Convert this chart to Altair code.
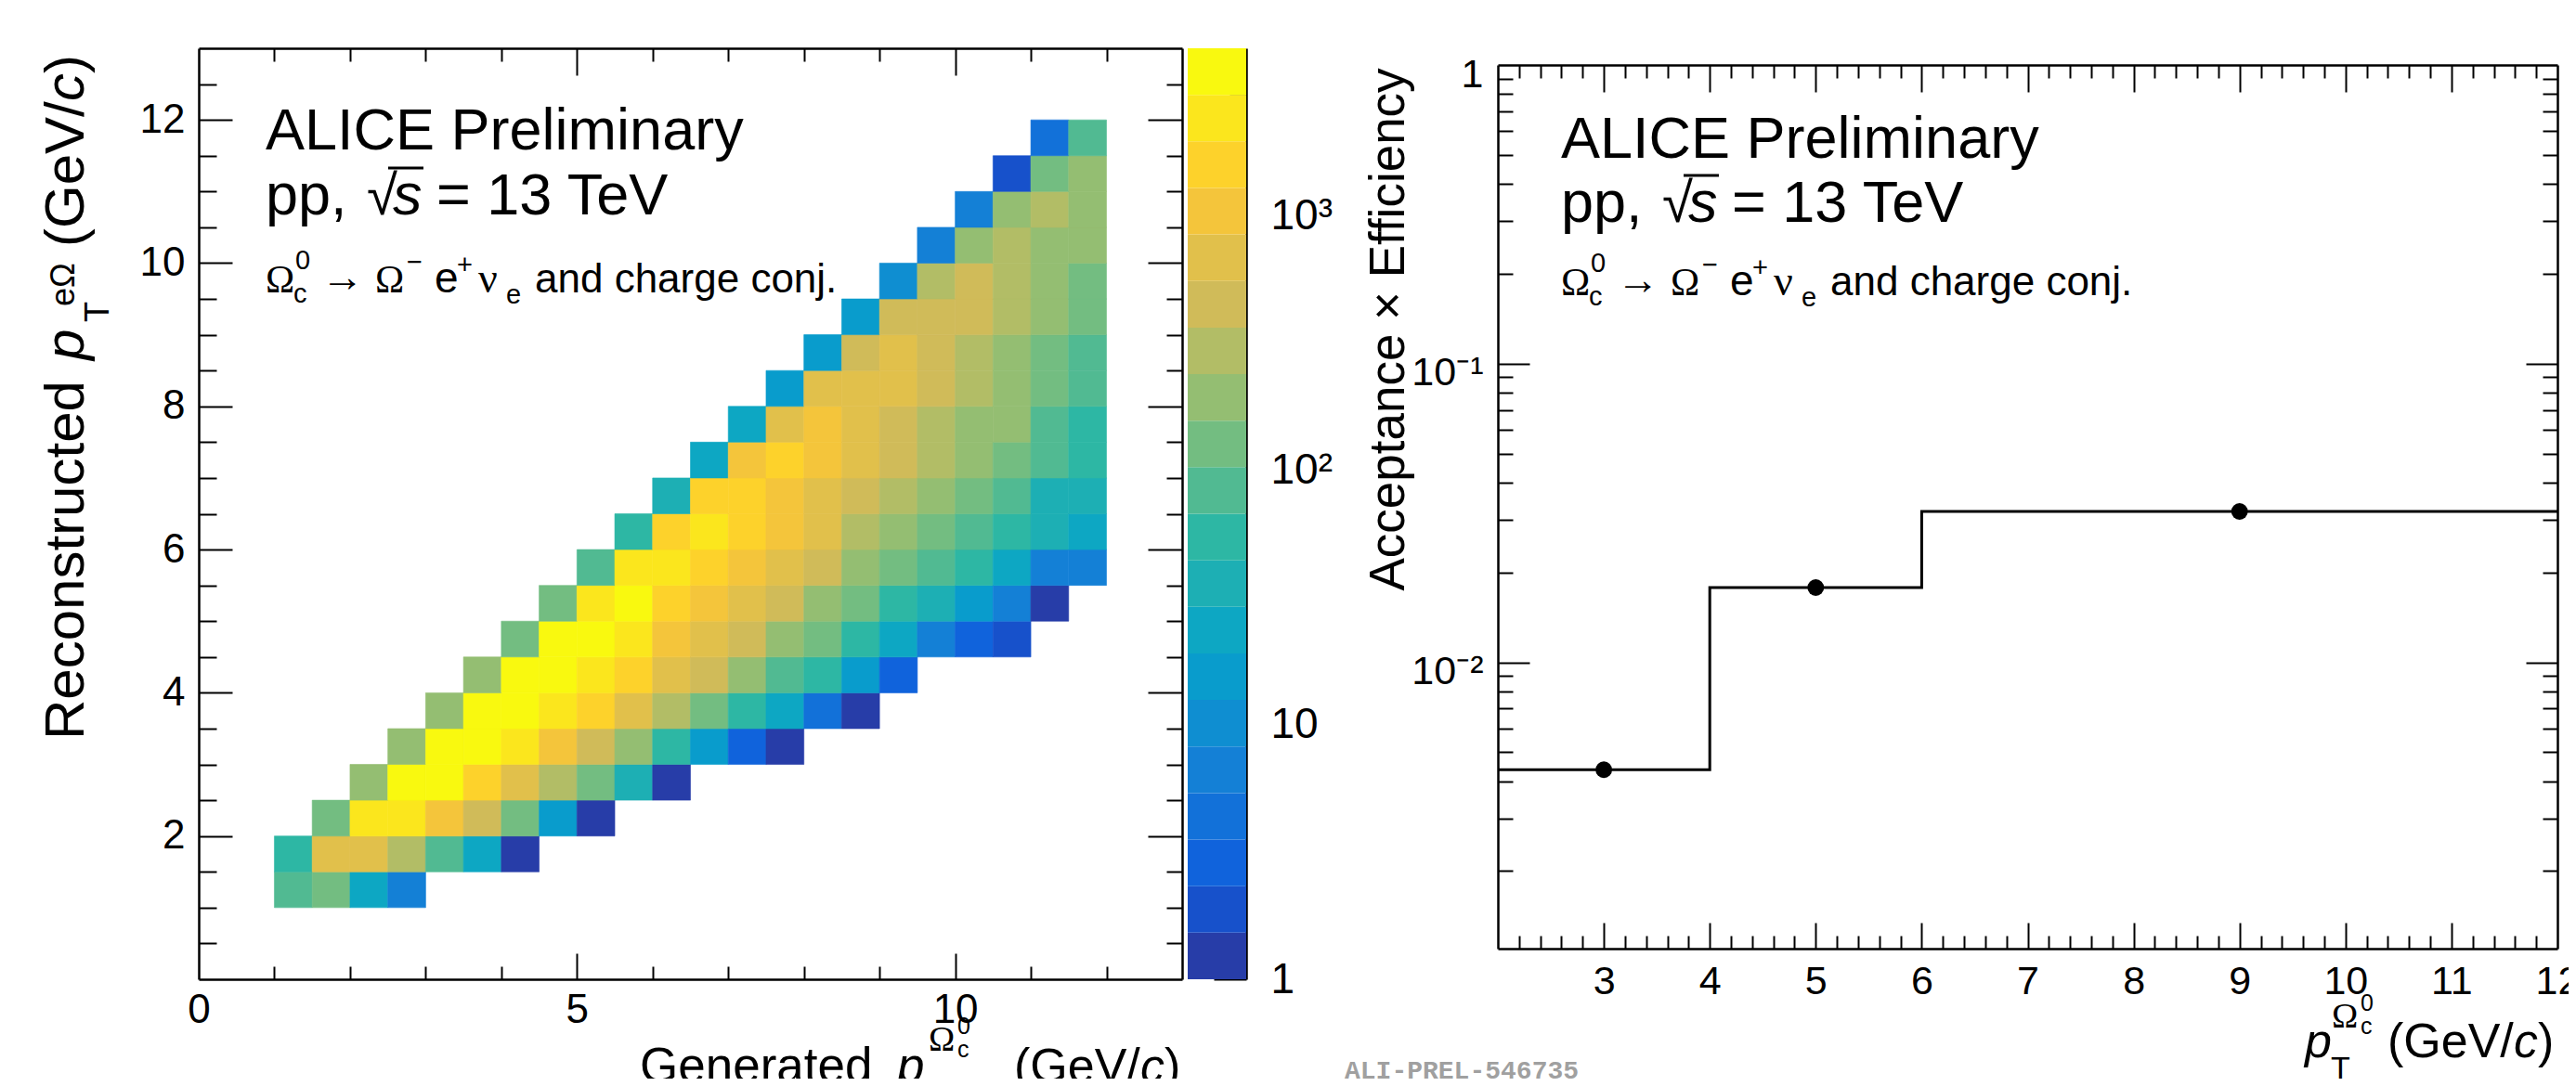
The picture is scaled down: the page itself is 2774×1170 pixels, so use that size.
import math
import altair as alt
import pandas as pd

# ---------------- data ----------------
# 2D response matrix: generated pT (x) vs reconstructed pT (y), 0.5 GeV/c bins
GEN_LO = [1.0, 1.5, 2.0, 2.5, 3.0, 3.5, 4.0, 4.5, 5.0, 5.5, 6.0,
          6.5, 7.0, 7.5, 8.0, 8.5, 9.0, 9.5, 10.0, 10.5, 11.0, 11.5]
REC_LO = [1.0, 1.5, 2.0, 2.5, 3.0, 3.5, 4.0, 4.5, 5.0, 5.5, 6.0,
          6.5, 7.0, 7.5, 8.0, 8.5, 9.0, 9.5, 10.0, 10.5, 11.0, 11.5]
BIN_W = 0.5
# index of the first filled generated-pT bin in each reconstructed-pT row
FIRST_COL = [0, 0, 1, 2, 3, 4, 5, 6, 7, 8, 9, 10, 11, 12, 13, 14, 15, 16, 17, 18, 19, 20]
# counts per row (reconstructed pT bin), starting at FIRST_COL
COUNTS = [
    [83, 131, 24, 6],
    [52, 702, 668, 290, 86, 22, 1],
    [121, 2380, 2290, 1050, 452, 133, 15, 1],
    [188, 3590, 3310, 1620, 705, 301, 125, 34, 1],
    [205, 3870, 3720, 2450, 1080, 437, 196, 55, 16, 3, 1],
    [210, 3950, 4210, 2520, 1610, 690, 288, 130, 56, 24, 4, 1],
    [198, 3420, 3760, 2360, 1570, 712, 455, 200, 88, 51, 14, 3],
    [140, 3150, 3280, 2190, 1110, 660, 430, 187, 128, 52, 22, 7, 3, 2],
    [135, 2810, 3050, 1710, 1010, 640, 420, 182, 124, 50, 34, 16, 6, 1],
    [95, 2520, 2090, 1520, 970, 620, 400, 178, 120, 80, 48, 22, 7, 6],
    [58, 1850, 2110, 1490, 1000, 600, 300, 180, 118, 78, 46, 33, 21],
    [36, 1520, 1400, 1100, 700, 460, 310, 190, 120, 81, 38, 33],
    [24, 1150, 1350, 980, 620, 430, 280, 180, 115, 75, 50],
    [21, 760, 950, 700, 470, 300, 205, 175, 80, 47],
    [16, 640, 610, 660, 430, 270, 185, 120, 76],
    [14, 480, 600, 420, 265, 170, 118, 72],
    [13, 410, 395, 400, 255, 168, 112],
    [9, 260, 380, 250, 165, 110],
    [6, 185, 245, 172, 175],
    [6, 175, 250, 172],
    [2, 108, 170],
    [4, 70],
]
Z_MIN, Z_MAX, N_LEVELS = 1.0, 4540.0, 20

# acceptance x efficiency
EFF_LO = [2.0, 4.0, 6.0]
EFF_HI = [4.0, 6.0, 12.0]
EFF_PT = [3.0, 5.0, 9.0]
EFF = [0.00437, 0.0178, 0.0320]

# ---------------- layout ----------------
W, H = 2758, 1154
M = 8  # page margin


def P(v):
    return v - M


FONT = "Liberation Sans"
SERIF = "Liberation Serif"
ONE = pd.DataFrame({"a": [0]})


# ROOT kBird palette
def kbird(f):
    st = [0, .125, .25, .375, .5, .625, .75, .875, 1]
    R = [0.2082, 0.0592, 0.0780, 0.0232, 0.1802, 0.5301, 0.8186, 0.9956, 0.9764]
    G = [0.1664, 0.3599, 0.5041, 0.6419, 0.7178, 0.7492, 0.7328, 0.7862, 0.9832]
    B = [0.5293, 0.8684, 0.8385, 0.7914, 0.6425, 0.4662, 0.3499, 0.1968, 0.0539]
    for i in range(8):
        if f <= st[i + 1]:
            t = (f - st[i]) / (st[i + 1] - st[i])
            break
    rgb = [c[i] + t * (c[i + 1] - c[i]) for c in (R, G, B)]
    return "#%02x%02x%02x" % tuple(int(round(255 * v)) for v in rgb)


LEVEL_COLORS = [kbird(int((i + 0.99) * 255 / N_LEVELS) / 255) for i in range(N_LEVELS)]
LZ = math.log10(Z_MAX)
EDGES = [10 ** (k * LZ / N_LEVELS) for k in range(N_LEVELS + 1)]
THR = EDGES[1:-1]

# scales
LX = alt.Scale(domain=[0, 13], range=[P(214), P(1273)], nice=False, zero=False)
LY = alt.Scale(domain=[0, 13], range=[P(1055), P(52)], nice=False, zero=False)
CY = alt.Scale(type="log", domain=[Z_MIN, Z_MAX], range=[P(1055), P(52)], nice=False)
RX = alt.Scale(domain=[2, 12], range=[P(1613), P(2754)], nice=False, zero=False)
RY = alt.Scale(type="log", domain=[0.0011, 1], range=[P(1022), P(70)], nice=False)

# ---------------- data frames ----------------
heat_rows = []
for r, cnts in enumerate(COUNTS):
    for k, n in enumerate(cnts):
        c = FIRST_COL[r] + k
        heat_rows.append(dict(gx=GEN_LO[c], gx2=GEN_LO[c] + BIN_W,
                              ry=REC_LO[r], ry2=REC_LO[r] + BIN_W, n=n))
heat = pd.DataFrame(heat_rows)

cbar = pd.DataFrame({"lo": EDGES[:-1], "hi": EDGES[1:], "col": LEVEL_COLORS})

step_df = pd.DataFrame({"x": EFF_LO + [EFF_HI[-1]], "y": EFF + [EFF[-1]]})
pts_df = pd.DataFrame({"x": EFF_PT, "y": EFF})

layers = []

thr_scale = dict(type="threshold", domain=THR, range=LEVEL_COLORS)
layers.append(
    alt.Chart(heat).mark_rect(strokeWidth=0.6).encode(
        x=alt.X("gx:Q", scale=LX, axis=None), x2="gx2:Q",
        y=alt.Y("ry:Q", scale=LY, axis=None), y2="ry2:Q",
        color=alt.Color("n:Q", scale=alt.Scale(**thr_scale), legend=None),
        stroke=alt.Stroke("n:Q", scale=alt.Scale(**thr_scale), legend=None),
    )
)
layers.append(
    alt.Chart(cbar).mark_rect().encode(
        x=alt.value(P(1279)), x2=alt.value(P(1342)),
        y=alt.Y("lo:Q", scale=CY, axis=None), y2="hi:Q",
        color=alt.Color("col:N", scale=None, legend=None),
    )
)
layers.append(
    alt.Chart(step_df).mark_line(interpolate="step-after", color="black", strokeWidth=3).encode(
        x=alt.X("x:Q", scale=RX, axis=None), y=alt.Y("y:Q", scale=RY, axis=None)
    )
)
layers.append(
    alt.Chart(pts_df).mark_circle(size=320, color="black", opacity=1).encode(
        x=alt.X("x:Q", scale=RX, axis=None), y=alt.Y("y:Q", scale=RY, axis=None)
    )
)


# ---------------- axes (ticks inside, ROOT style) ----------------
def ax(ch, scale, dom_val, **kw):
    a = dict(title=None, grid=False, labels=False, ticks=False, domain=False,
             domainColor="black", domainWidth=2.5, tickColor="black", tickWidth=2,
             labelColor="black", labelFont=FONT, labelFlush=False,
             labelOverlap=False, labelBound=False)
    a.update(kw)
    enc = alt.X if ch == "x" else alt.Y
    return alt.Chart(pd.DataFrame({"v": [dom_val]})).mark_point(opacity=0).encode(
        **{ch: enc("v:Q", scale=scale, axis=alt.Axis(**a))}
    )


def bottom_off(y):
    return P(y) - H


def right_off(x):
    return P(x) - W


# left panel
LXMAJ = [5, 10]
LXMIN = [1, 2, 3, 4, 6, 7, 8, 9, 11, 12]
LYMAJ = [2, 4, 6, 8, 10, 12]
LYMIN = [0.5, 1, 1.5, 2.5, 3, 3.5, 4.5, 5, 5.5, 6.5, 7, 7.5, 8.5, 9, 9.5, 10.5, 11, 11.5, 12.5]
layers += [
    ax("x", LX, 0, orient="bottom", offset=bottom_off(1055), values=[0, 5, 10],
       labels=True, labelPadding=11, labelFontSize=44, format="d"),
    ax("x", LX, 0, orient="top", offset=-P(1055), values=LXMAJ, ticks=True, tickSize=28, domain=True),
    ax("x", LX, 0, orient="top", offset=-P(1055), values=LXMIN, ticks=True, tickSize=14),
    ax("x", LX, 0, orient="bottom", offset=bottom_off(52), values=LXMAJ, ticks=True, tickSize=29, domain=True),
    ax("x", LX, 0, orient="bottom", offset=bottom_off(52), values=LXMIN, ticks=True, tickSize=14),
    ax("y", LY, 0, orient="left", offset=-P(214), values=LYMAJ,
       labels=True, labelPadding=15, labelFontSize=44, format="d"),
    ax("y", LY, 0, orient="right", offset=right_off(214), values=LYMAJ, ticks=True, tickSize=36, domain=True),
    ax("y", LY, 0, orient="right", offset=right_off(214), values=LYMIN, ticks=True, tickSize=19),
    ax("y", LY, 0, orient="left", offset=-P(1273), values=LYMAJ, ticks=True, tickSize=37, domain=True),
    ax("y", LY, 0, orient="left", offset=-P(1273), values=LYMIN, ticks=True, tickSize=17),
]

# colour bar axis
CMAJ = [1, 10, 100, 1000]
CMIN = [m * d for d in (1, 10, 100) for m in range(2, 10)] + [2000, 3000, 4000]
layers += [
    ax("y", CY, 1, orient="left", offset=-P(1342), values=CMAJ, ticks=True, tickSize=35, domain=True),
    ax("y", CY, 1, orient="left", offset=-P(1342), values=CMIN, ticks=True, tickSize=18),
    ax("y", CY, 1, orient="right", offset=right_off(1342), values=CMAJ, labels=True,
       labelPadding=26, labelFontSize=46, labelAlign="left",
       labelExpr="datum.value == 1 ? '1' : datum.value == 10 ? '10' : datum.value == 100 ? '10²' : '10³'"),
]

# right panel
RXMAJ = [3, 4, 5, 6, 7, 8, 9, 10, 11]
RXMIN = [round(2 + 0.2 * i, 1) for i in range(1, 50) if i % 5 != 0]
RYMAJ = [0.01, 0.1]
RYMIN = [m * d for d in (0.001, 0.01, 0.1) for m in range(2, 10) if m * d > 0.0011]
layers += [
    ax("x", RX, 2, orient="bottom", offset=bottom_off(1022), values=[3, 4, 5, 6, 7, 8, 9, 10, 11, 12],
       labels=True, labelPadding=14, labelFontSize=43, format="d"),
    ax("x", RX, 2, orient="top", offset=-P(1022), values=RXMAJ, ticks=True, tickSize=28, domain=True),
    ax("x", RX, 2, orient="top", offset=-P(1022), values=RXMIN, ticks=True, tickSize=14),
    ax("x", RX, 2, orient="bottom", offset=bottom_off(70), values=RXMAJ, ticks=True, tickSize=29, domain=True),
    ax("x", RX, 2, orient="bottom", offset=bottom_off(70), values=RXMIN, ticks=True, tickSize=14),
    ax("y", RY, 0.01, orient="left", offset=-P(1613), values=[0.01, 0.1, 1], labels=True,
       labelPadding=16, labelFontSize=43, labelOffset=10,
       labelExpr="datum.value >= 0.99 ? '1' : datum.value >= 0.099 ? '10⁻¹' : '10⁻²'"),
    ax("y", RY, 0.01, orient="right", offset=right_off(1613), values=RYMAJ, ticks=True, tickSize=34, domain=True),
    ax("y", RY, 0.01, orient="right", offset=right_off(1613), values=RYMIN, ticks=True, tickSize=16),
    ax("y", RY, 0.01, orient="left", offset=-P(2754), values=RYMAJ, ticks=True, tickSize=34, domain=True),
    ax("y", RY, 0.01, orient="left", offset=-P(2754), values=RYMIN, ticks=True, tickSize=16),
]


# ---------------- text ----------------
def txt(s, x, y, size, angle=0, italic=False, font=FONT, color="black", align="left", weight="normal"):
    kw = dict(text=s, font=font, fontSize=size, color=color, align=align,
              baseline="alphabetic", fontWeight=weight)
    if italic:
        kw["fontStyle"] = "italic"
    if angle:
        kw["angle"] = angle
    return alt.Chart(ONE).mark_text(**kw).encode(x=alt.value(P(x)), y=alt.value(P(y)))


def rule(x1, x2, y, w=3):
    return alt.Chart(ONE).mark_rule(color="black", strokeWidth=w).encode(
        x=alt.value(P(x1)), x2=alt.value(P(x2)), y=alt.value(P(y)))


def header(dx, y1, y2, y3):
    out = [
        txt("ALICE Preliminary", 286 + dx, y1, 63),
        txt("pp,", 286 + dx, y2, 63),
        txt("√", 395 + dx, y2, 60),
        rule(418 + dx, 456 + dx, y2 - 50),
        txt("s", 423 + dx, y2, 63, italic=True),
        txt("= 13 TeV", 470 + dx, y2, 63),
        txt("Ω", 286 + dx, y3, 42, font=SERIF),
        txt("c", 316 + dx, y3 + 11, 29),
        txt("0", 318 + dx, y3 - 25, 29),
        txt("→", 346 + dx, y3 - 1, 46),
        txt("Ω", 404 + dx, y3, 42, font=SERIF),
        txt("−", 438 + dx, y3 - 23, 29),
        txt("e", 468 + dx, y3, 46),
        txt("+", 492 + dx, y3 - 20, 29),
        txt("ν", 515 + dx, y3, 46, font=SERIF),
        txt("e", 545 + dx, y3 + 12, 29),
        txt("and charge conj.", 576 + dx, y3, 44),
    ]
    return out


layers += header(0, 161, 231, 315)
layers += header(1395, 170, 239, 318)

# left y title (rotated)
layers += [
    txt("Reconstructed", 90, 797, 60, angle=270),
    txt("p", 90, 388, 60, angle=270, italic=True),
    txt("T", 117, 347, 36, angle=270),
    txt("eΩ", 80, 330, 36, angle=270),
    txt("(GeV/", 90, 266, 60, angle=270),
    txt("c", 90, 109, 60, angle=270, italic=True),
    txt(")", 90, 79, 60, angle=270),
]
# left x title
layers += [
    txt("Generated", 689, 1166, 53),
    txt("p", 966, 1166, 53, italic=True),
    txt("T", 996, 1186, 34),
    txt("Ω", 1000, 1132, 38, font=SERIF),
    txt("c", 1031, 1139, 25),
    txt("0", 1031, 1114, 25),
    txt("(GeV/", 1092, 1166, 52),
    txt("c", 1228, 1166, 52, italic=True),
    txt(")", 1254, 1166, 52),
]
# right y title
layers.append(txt("Acceptance × Efficiency", 1512, 355, 53, angle=270, align="center"))
# right x title
layers += [
    txt("p", 2482, 1139, 52, italic=True),
    txt("T", 2510, 1162, 34),
    txt("Ω", 2511, 1107, 38, font=SERIF),
    txt("c", 2542, 1114, 25),
    txt("0", 2542, 1089, 25),
    txt("(GeV/", 2571, 1139, 52),
    txt("c", 2707, 1139, 52, italic=True),
    txt(")", 2733, 1139, 52),
]
# watermark
layers.append(txt("ALI-PREL-546735", 1448, 1162, 28, font="Liberation Mono", color="#a0a0a0", weight="bold"))

chart = (
    alt.layer(*layers)
    .resolve_scale(x="independent", y="independent", color="independent", stroke="independent")
    .properties(width=W, height=H, autosize=alt.AutoSizeParams(type="none"), padding=0,
                background="white")
    .configure_view(stroke=None)
)

chart.save("out.html", embed_options={"renderer": "svg", "actions": False})
